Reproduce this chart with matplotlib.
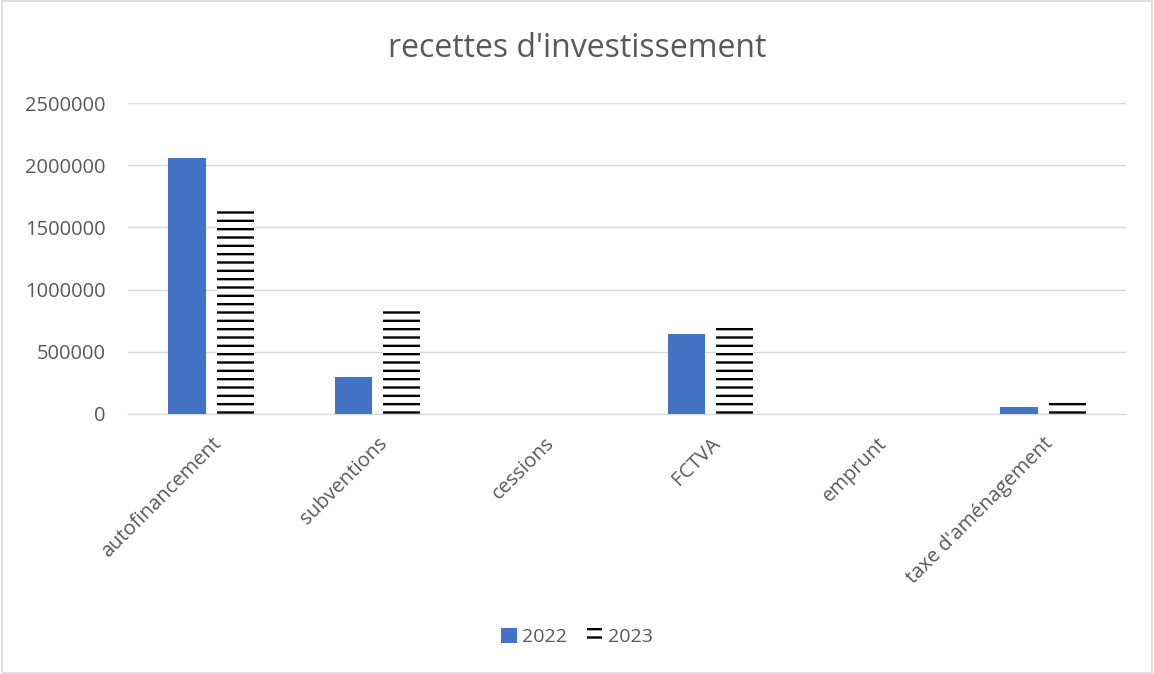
import matplotlib.pyplot as plt
import numpy as np
from matplotlib.patches import Rectangle

plt.rcParams['font.family'] = ['Open Sans', 'DejaVu Sans']
plt.rcParams['hatch.linewidth'] = 1.7
plt.rcParams['hatch.color'] = 'black'

# Data
categories = ['autofinancement', 'subventions', 'cessions', 'FCTVA', 'emprunt', "taxe d'aménagement"]
values_2022 = [2060000, 300000, 0, 645000, 0, 58000]
values_2023 = [1655000, 840000, 0, 730000, 0, 100000]
yticks = [0, 500000, 1000000, 1500000, 2000000, 2500000]

txt = '#595959'
grid = '#d9d9d9'

fig = plt.figure(figsize=(11.54, 6.74), dpi=100)
fig.patches.append(Rectangle((0.002, 0.002), 0.996, 0.996, transform=fig.transFigure,
                             fill=False, edgecolor=grid, linewidth=1.2))
ax = fig.add_axes([0.111, 0.386, 0.865, 0.461])

x = np.arange(len(categories))
w = 0.225
ax.bar(x - 0.145, values_2022, w, color='#4472c4', label='2022', zorder=3)
ax.bar(x + 0.145, values_2023, w, color='white', hatch='--', edgecolor='black',
       linewidth=0, label='2023', zorder=3)

ax.set_xlim(-0.5, len(categories) - 0.5)
ax.set_ylim(0, 2500000)
ax.set_yticks(yticks)
ax.set_yticklabels([str(v) for v in yticks], fontsize=14.5, color=txt)
ax.set_xticks(x)
ax.set_xticklabels(categories, rotation=45, ha='right', rotation_mode='anchor',
                   fontsize=14.5, color=txt)
ax.tick_params(axis='y', length=0, pad=16)
ax.tick_params(axis='x', length=0, pad=14)
ax.grid(axis='y', color=grid, linewidth=1, zorder=0)
for s in ['top', 'right', 'left']:
    ax.spines[s].set_visible(False)
ax.spines['bottom'].set_color(grid)
ax.spines['bottom'].set_linewidth(1)

fig.text(0.5, 0.928, "recettes d'investissement", ha='center', va='center',
         fontsize=23, color=txt)

fig.legend(loc='center', bbox_to_anchor=(0.5, 0.055), ncol=2, frameon=False,
           fontsize=14, labelcolor=txt, handlelength=0.8, handleheight=0.8,
           handletextpad=0.3, columnspacing=1.0)

fig.savefig('out.png', dpi=100)
